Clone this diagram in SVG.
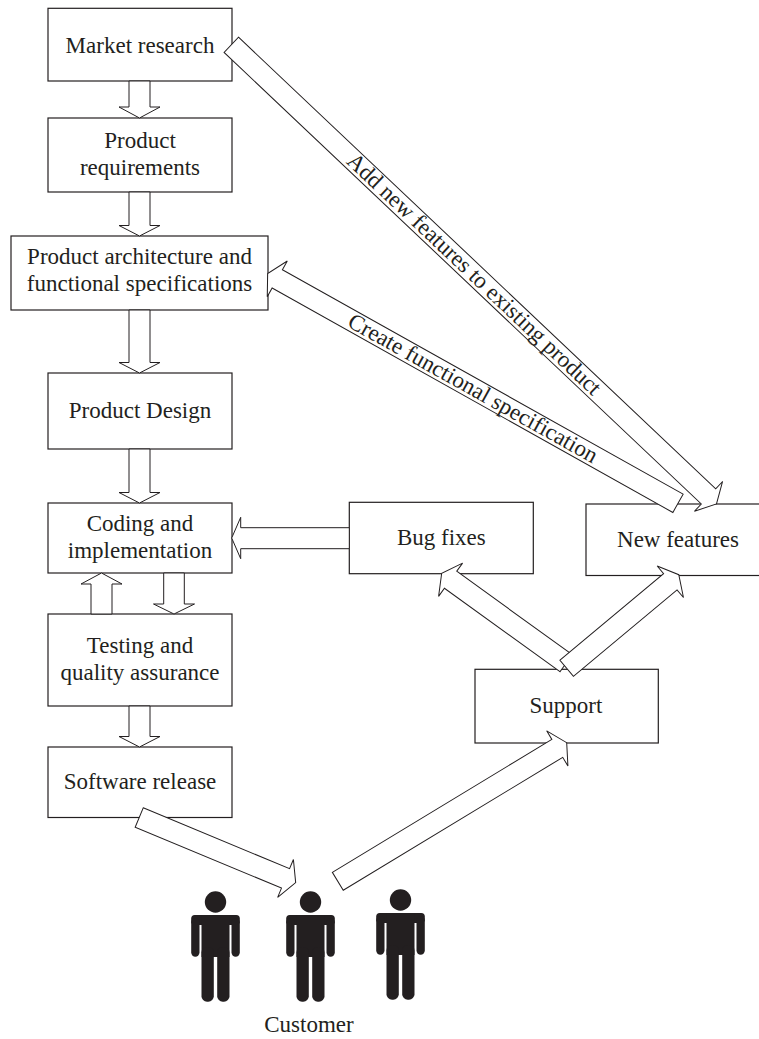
<svg xmlns="http://www.w3.org/2000/svg" xmlns:xlink="http://www.w3.org/1999/xlink" width="759" height="1039" viewBox="0 0 759 1039">
<style>
.box{fill:#ffffff;stroke:#231f20;stroke-width:1.2}
.arr{fill:#ffffff;stroke:#231f20;stroke-width:1;stroke-linejoin:miter}
.t{font-family:"Liberation Serif","Times New Roman",serif;font-size:23px;fill:#231f20;text-anchor:middle}
.fig{fill:#231f20}
</style>
<defs>
<g id="person" class="fig">
<circle cx="0" cy="0" r="10.7"/>
<rect x="-24.3" y="13" width="48.6" height="10" rx="3.5"/>
<rect x="-24.3" y="16" width="8.3" height="38.7" rx="4.15"/>
<rect x="16" y="16" width="8.3" height="38.7" rx="4.15"/>
<rect x="-14" y="13" width="28" height="42"/>
<rect x="-14" y="45" width="12.3" height="54.7" rx="5.5"/>
<rect x="1.7" y="45" width="12.3" height="54.7" rx="5.5"/>
</g>
</defs>
<rect width="759" height="1039" fill="#ffffff"/>

<g id="market-research"><rect class="box" x="48" y="8.3" width="184" height="72.7"/><text class="t" x="140" y="52.5">Market research</text></g>
<g id="product-requirements"><rect class="box" x="48" y="118" width="184" height="74"/><text class="t" x="140" y="147.7">Product</text><text class="t" x="140" y="175">requirements</text></g>
<g id="product-architecture"><rect class="box" x="11" y="236" width="257" height="74"/><text class="t" x="139.5" y="264.3">Product architecture and</text><text class="t" x="139.5" y="291.3">functional specifications</text></g>
<g id="product-design"><rect class="box" x="48" y="373" width="184" height="76"/><text class="t" x="140" y="417.5">Product Design</text></g>
<g id="coding"><rect class="box" x="48" y="503" width="184" height="70"/><text class="t" x="140" y="530.7">Coding and</text><text class="t" x="140" y="558.2">implementation</text></g>
<g id="testing"><rect class="box" x="48" y="614" width="184" height="92"/><text class="t" x="140" y="652.7">Testing and</text><text class="t" x="140" y="680">quality assurance</text></g>
<g id="software-release"><rect class="box" x="48" y="747" width="184" height="70.5"/><text class="t" x="140" y="789">Software release</text></g>
<g id="bug-fixes"><rect class="box" x="349.3" y="502.3" width="184" height="71.4"/><text class="t" x="441.3" y="545">Bug fixes</text></g>
<g id="new-features"><rect class="box" x="586" y="504" width="184" height="71.5"/><text class="t" x="678" y="546.7">New features</text></g>
<g id="support"><rect class="box" x="475" y="669.3" width="183.3" height="73.7"/><text class="t" x="566" y="712.7">Support</text></g>

<g id="customer">
<use xlink:href="#person" href="#person" x="215.5" y="902"/>
<use xlink:href="#person" href="#person" x="310.5" y="902"/>
<use xlink:href="#person" href="#person" x="400.5" y="900"/>
<text class="t" x="309" y="1032.3">Customer</text>
</g>

<g id="connectors">
<path class="arr" d="M129,81 V107 H119 L139.5,118 L160,107 H150 V81 Z"/>
<path class="arr" d="M129,192 V225.5 H119 L139.5,236 L160,225.5 H150 V192 Z"/>
<path class="arr" d="M129,310 V362.5 H119 L139.5,373 L160,362.5 H150 V310 Z"/>
<path class="arr" d="M129,449 V492.5 H119 L139.5,503 L160,492.5 H150 V449 Z"/>
<path class="arr" d="M163.7,573 V604 H153.5 L174,614 L194.5,604 H184.3 V573 Z"/>
<path class="arr" d="M91,614 V584 H81 L101.5,573 L122,584 H112 V614 Z"/>
<path class="arr" d="M129,706 V736.5 H119 L139.5,747 L160,736.5 H150 V706 Z"/>
<path class="arr" d="M349.3,527.7 H240.7 V517.3 L231.7,538 L240.7,558.7 V548.7 H349.3 Z"/>

<path class="arr" transform="translate(231.3,44.8) rotate(43.42)" d="M0,-10.5 H657 V-20.5 L668,0 L657,20.5 V10.5 H0 Z"/>
<path class="arr" transform="translate(678,503.3) rotate(209.25)" d="M0,-10.5 H459.3 V-20.5 L470.3,0 L459.3,20.5 V10.5 H0 Z"/>
<path class="arr" transform="translate(566.1,663.2) rotate(215.85)" d="M0,-10.5 H142.5 V-20.5 L153.5,0 L142.5,20.5 V10.5 H0 Z"/>
<path class="arr" transform="translate(566.7,668.3) rotate(-39.86)" d="M0,-10.5 H135 V-20.5 L146,0 L135,20.5 V10.5 H0 Z"/>
<path class="arr" transform="translate(139.2,817.5) rotate(22.6)" d="M0,-10.5 H158.5 V-20.5 L169.5,0 L158.5,20.5 V10.5 H0 Z"/>
<path class="arr" transform="translate(337.8,881.3) rotate(-31.2)" d="M0,-10.5 H256.6 V-20.5 L267.6,0 L256.6,20.5 V10.5 H0 Z"/>

<text class="t" transform="translate(473.9,274.4) rotate(43.42)" x="0" y="7">Add new features to existing product</text>
<text class="t" transform="translate(472.8,388.5) rotate(29.25)" x="0" y="7">Create functional specification</text>
</g>
</svg>
